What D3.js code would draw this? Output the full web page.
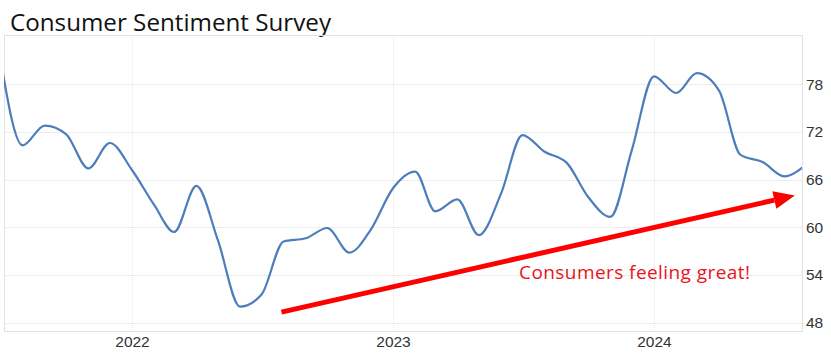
<!DOCTYPE html>
<html>
<head>
<meta charset="utf-8">
<script src="https://cdn.jsdelivr.net/npm/d3@7"></script>
<style>
  body { margin: 0; background: #fff; }
  svg { display: block; }
</style>
</head>
<body>
<div id="chart"></div>
<script>
// monthly readings, Jul 2021 .. Aug 2024
const months = [
  "2021-07", "2021-08", "2021-09", "2021-10", "2021-11", "2021-12",
  "2022-01", "2022-02", "2022-03", "2022-04", "2022-05", "2022-06",
  "2022-07", "2022-08", "2022-09", "2022-10", "2022-11", "2022-12",
  "2023-01", "2023-02", "2023-03", "2023-04", "2023-05", "2023-06",
  "2023-07", "2023-08", "2023-09", "2023-10", "2023-11", "2023-12",
  "2024-01", "2024-02", "2024-03", "2024-04", "2024-05", "2024-06",
  "2024-07", "2024-08"
];
const sentiment = [
  81.2, 70.3, 72.8, 71.7, 67.4, 70.6,
  67.2, 62.8, 59.4, 65.2, 58.4, 50.0,
  51.5, 58.2, 58.6, 59.9, 56.8, 59.7,
  64.9, 67.0, 62.0, 63.5, 59.0, 64.2,
  71.6, 69.5, 68.1, 63.8, 61.3, 69.7,
  79.0, 76.9, 79.4, 77.2, 69.1, 68.2,
  66.4, 67.9
];
const yTicks = [48, 54, 60, 66, 72, 78];
const xTicks = ["2022-01-01", "2023-01-01", "2024-01-01"];
const arrowDates = ["2022-07-29", "2024-07-16"];
const arrowValues = [49.3, 64.0];
const noteText = "Consumers feeling great!";

const width = 831, height = 353;
const plot = { left: 4, right: 802, top: 35, bottom: 331 };

const parseMonth = d3.timeParse("%Y-%m");
const parseDay = d3.timeParse("%Y-%m-%d");
const data = months.map((m, i) => ({ date: parseMonth(m), value: sentiment[i] }));

const x = d3.scaleTime()
  .domain([parseDay("2021-07-06"), parseDay("2024-07-26")])
  .range([plot.left, plot.right]);
const y = d3.scaleLinear()
  .domain([46.93, 84.2])
  .range([plot.bottom, plot.top]);

const svg = d3.select("#chart").append("svg")
  .attr("width", width)
  .attr("height", height);

svg.append("text")
  .attr("x", 10)
  .attr("y", 31)
  .attr("font-family", "'Open Sans', sans-serif")
  .attr("font-size", 24.2)
  .attr("fill", "#111")
  .text("Consumer Sentiment Survey");

// grid
svg.append("g")
  .selectAll("line")
  .data(yTicks)
  .join("line")
  .attr("x1", plot.left).attr("x2", plot.right)
  .attr("y1", d => Math.round(y(d)) + 0.5).attr("y2", d => Math.round(y(d)) + 0.5)
  .attr("stroke", "#ececec");

svg.append("g")
  .selectAll("line")
  .data(xTicks.map(parseDay))
  .join("line")
  .attr("x1", d => Math.round(x(d)) + 0.5).attr("x2", d => Math.round(x(d)) + 0.5)
  .attr("y1", plot.top).attr("y2", plot.bottom)
  .attr("stroke", "#e6e6e6")
  .attr("stroke-dasharray", "1,1");

// frame
svg.append("rect")
  .attr("x", plot.left + 0.5)
  .attr("y", plot.top + 0.5)
  .attr("width", plot.right - plot.left)
  .attr("height", plot.bottom - plot.top)
  .attr("fill", "none")
  .attr("stroke", "#dfe3e8");

// axes labels
const yAxis = d3.axisRight(y).tickValues(yTicks).tickSize(0).tickPadding(4);
svg.append("g")
  .attr("transform", `translate(${plot.right},0)`)
  .call(yAxis)
  .call(g => g.select(".domain").remove())
  .call(g => g.selectAll("text")
    .attr("font-family", "'Liberation Sans', Arial, sans-serif")
    .attr("font-size", 15.5)
    .attr("fill", "#333"));

const xAxis = d3.axisBottom(x).tickValues(xTicks.map(parseDay))
  .tickFormat(d3.timeFormat("%Y")).tickSize(0).tickPadding(5);
svg.append("g")
  .attr("transform", `translate(0,${plot.bottom})`)
  .call(xAxis)
  .call(g => g.select(".domain").remove())
  .call(g => g.selectAll("text")
    .attr("font-family", "'Liberation Sans', Arial, sans-serif")
    .attr("font-size", 15.5)
    .attr("fill", "#333"));

// series
svg.append("clipPath").attr("id", "clip")
  .append("rect")
  .attr("x", plot.left).attr("y", plot.top)
  .attr("width", plot.right - plot.left).attr("height", plot.bottom - plot.top);

const line = d3.line()
  .x(d => x(d.date))
  .y(d => y(d.value))
  .curve(d3.curveMonotoneX);

svg.append("path")
  .datum(data)
  .attr("clip-path", "url(#clip)")
  .attr("fill", "none")
  .attr("stroke", "#4d7dba")
  .attr("stroke-width", 2.2)
  .attr("d", line);

// annotation arrow
const ax0 = x(parseDay(arrowDates[0])), ay0 = y(arrowValues[0]);
const ax1 = x(parseDay(arrowDates[1])), ay1 = y(arrowValues[1]);
const ang = Math.atan2(ay1 - ay0, ax1 - ax0);
const headLen = 21, headHalf = 9;
const bx = ax1 - headLen * Math.cos(ang), by = ay1 - headLen * Math.sin(ang);

svg.append("line")
  .attr("x1", ax0).attr("y1", ay0)
  .attr("x2", bx).attr("y2", by)
  .attr("stroke", "#ff0000")
  .attr("stroke-width", 5);

svg.append("path")
  .attr("d", d3.line()([
    [ax1, ay1],
    [bx + headHalf * Math.sin(ang), by - headHalf * Math.cos(ang)],
    [bx - headHalf * Math.sin(ang), by + headHalf * Math.cos(ang)]
  ]) + "Z")
  .attr("fill", "#ff0000");

svg.append("text")
  .attr("x", 519)
  .attr("y", 279)
  .attr("font-family", "'Open Sans', sans-serif")
  .attr("font-size", 19)
  .attr("textLength", 231)
  .attr("lengthAdjust", "spacing")
  .attr("fill", "#e8141c")
  .text(noteText);
</script>
</body>
</html>
